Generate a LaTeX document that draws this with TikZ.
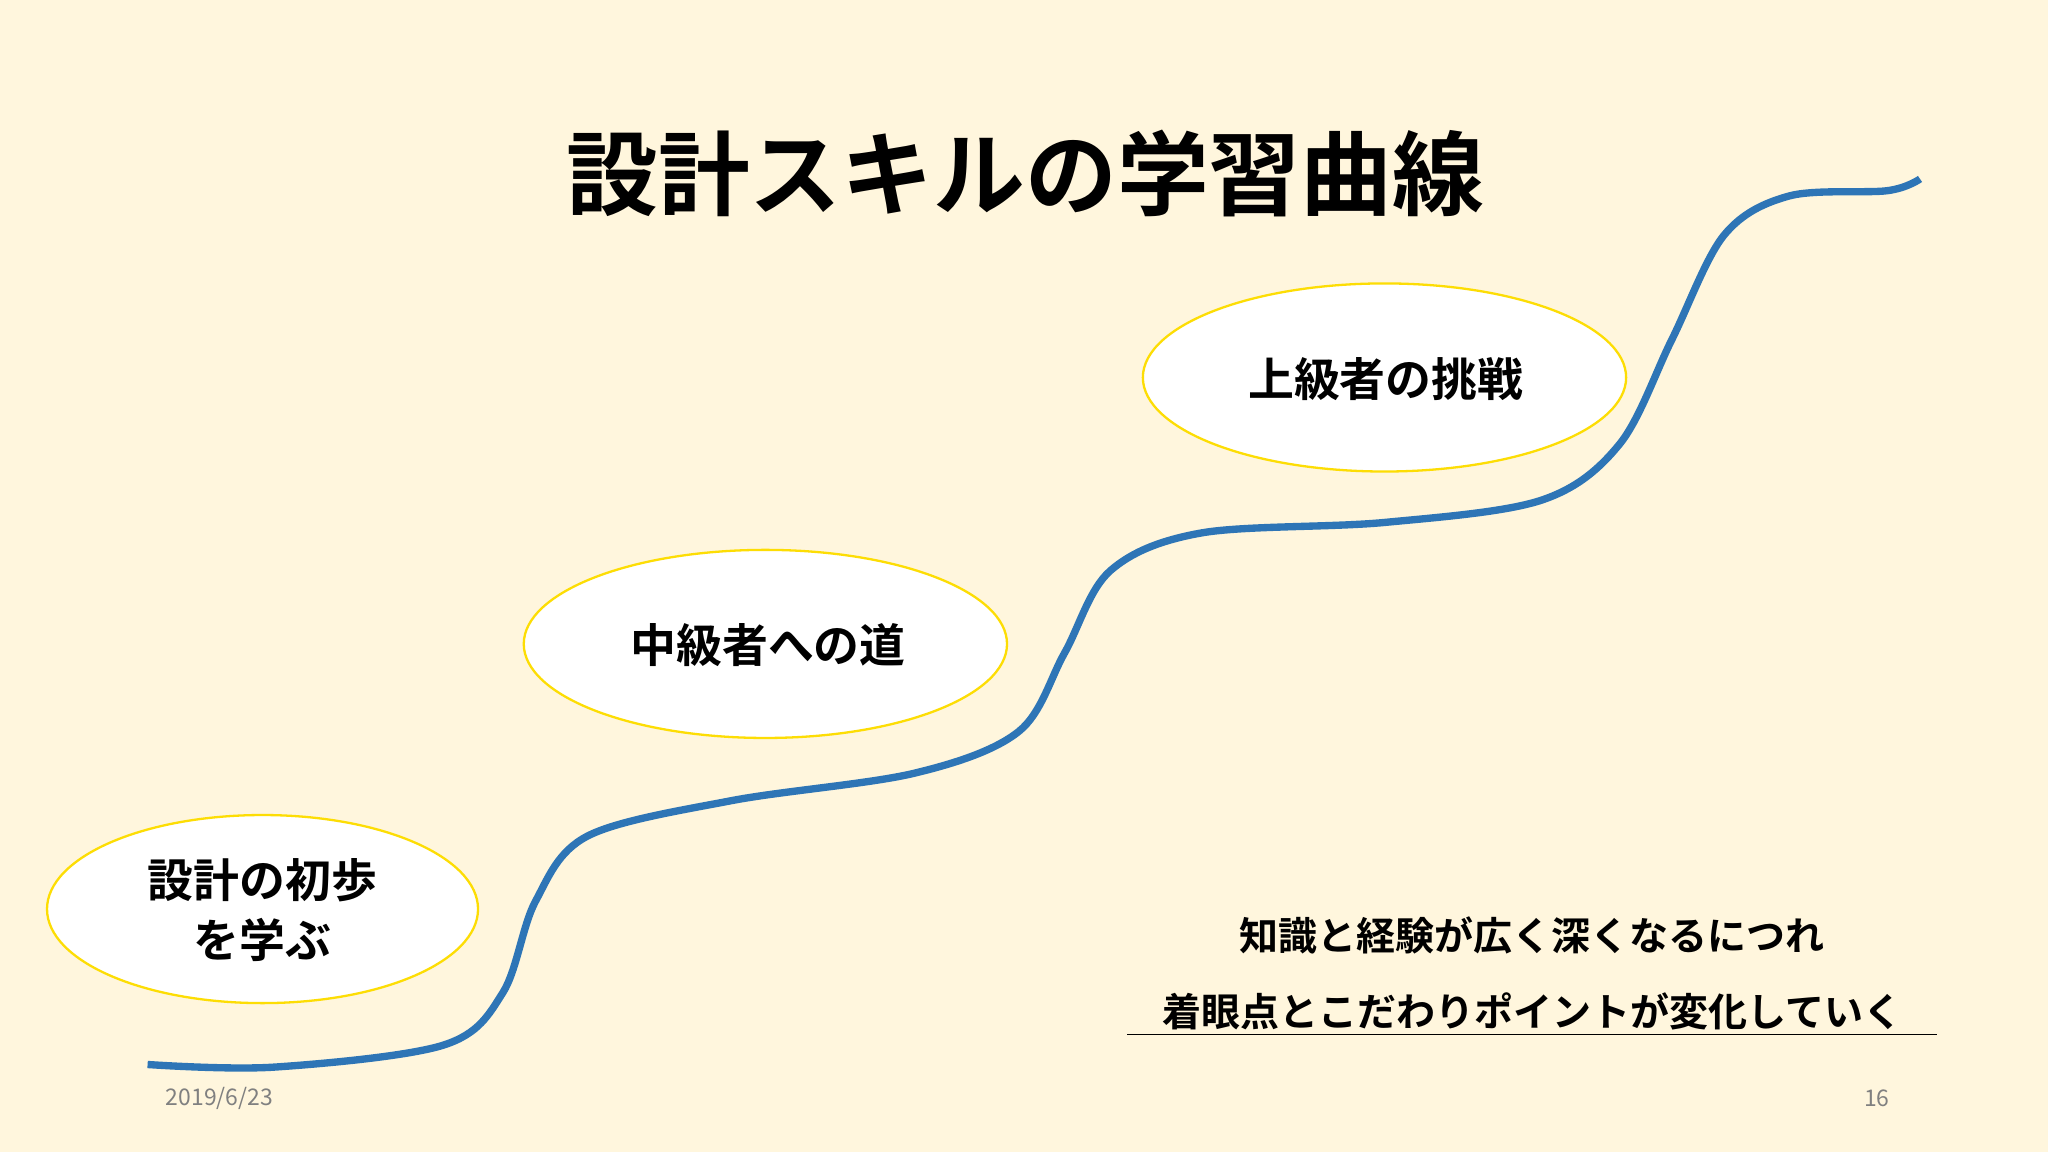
\documentclass[tikz,border=0pt]{standalone}
\usepackage{fontspec}
\setmainfont{Noto Sans CJK JP}
\newfontfamily\jpb{Noto Sans CJK JP Bold}
\begin{document}
\begin{tikzpicture}[x=0.02cm,y=-0.02cm,
  bub/.style={draw=yellow!75!orange,line width=1.2pt,fill=white,ellipse},
  lab/.style={font=\jpb\fontsize{20}{26}\selectfont,align=center}]
\fill[fill={rgb,255:red,255;green,246;blue,221}] (0,0) rectangle (1568,882);
\useasboundingbox (0,0) rectangle (1568,882);
\node[font=\jpb\fontsize{40}{48}\selectfont] (title) at (785,133) {設計スキルの学習曲線};
\draw[line width=3.2pt,color={rgb,255:red,46;green,117;blue,182}] plot[smooth,tension=0.55] coordinates {
(113,815) (210,817) (340,800) (385,760) (410,690) (450,640) (560,613) (700,592) (780,560) (815,500) (850,437) (920,408) (1060,400) (1180,383) (1240,340) (1280,260) (1320,180) (1370,150) (1445,146) (1470,137)};
\fill[white] (201,696) ellipse (165 and 72);
\draw[yellow!80!orange,line width=1pt] (201,696) ellipse (165 and 72);
\node[lab] (a) at (201,697) {設計の初歩\\を学ぶ};
\fill[white] (586,493) ellipse (185 and 72);
\draw[yellow!80!orange,line width=1pt] (586,493) ellipse (185 and 72);
\node[lab] (b) at (588,494) {中級者への道};
\fill[white] (1060,289) ellipse (185 and 72);
\draw[yellow!80!orange,line width=1pt] (1060,289) ellipse (185 and 72);
\node[lab] (c) at (1061,290) {上級者の挑戦};
\node[font=\jpb\fontsize{17}{20}\selectfont] (t1) at (1173,716) {知識と経験が広く深くなるにつれ};
\node[font=\jpb\fontsize{17}{20}\selectfont,inner sep=1pt] (t2) at (1173,774) {着眼点とこだわりポイントが変化していく};
\draw[line width=0.8pt] (863,792) -- (1483,792);
\node[font=\fontsize{10}{12}\selectfont,text=gray] (d) at (168,841) {2019/6/23};
\node[font=\fontsize{10}{12}\selectfont,text=gray] (p) at (1437,841) {16};
\end{tikzpicture}
\end{document}
